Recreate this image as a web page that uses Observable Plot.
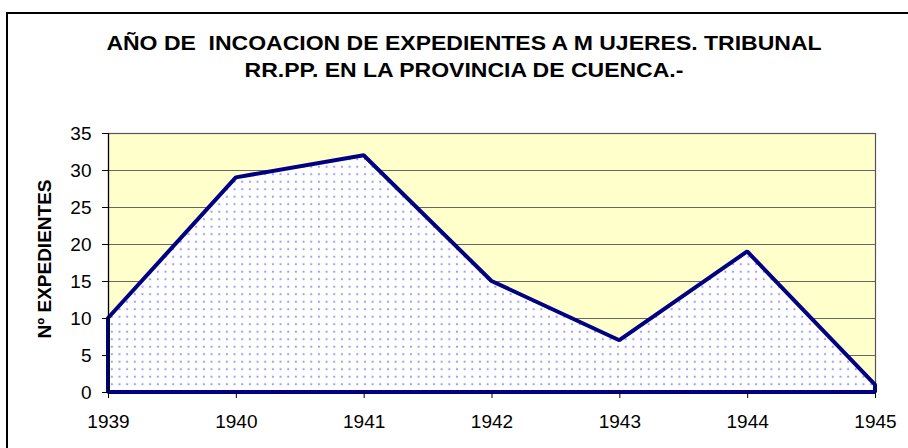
<!DOCTYPE html>
<html>
<head>
<meta charset="utf-8">
<script src="https://cdn.jsdelivr.net/npm/d3@7"></script>
<script src="https://cdn.jsdelivr.net/npm/@observablehq/plot@0.6"></script>
<style>
  html, body { margin: 0; padding: 0; background: #fff; overflow: hidden; }
  #wrap { position: relative; width: 908px; height: 448px; font-family: "Liberation Sans", Arial, sans-serif; }
  #border { position: absolute; left: 6px; top: 12px; width: 1000px; height: 1000px; border: 2px solid #000; box-sizing: border-box; }
  #title { position: absolute; left: 0; width: 928px; top: 30px; text-align: center; font-weight: bold; font-size: 20px; line-height: 27px; color: #000; white-space: pre; transform: scaleX(1.15); transform-origin: 464px 0; }
  #chart { position: absolute; left: 0; top: 0; }
</style>
</head>
<body>
<div id="wrap">
  <div id="border"></div>
  <div id="chart"></div>
  <div id="title">AÑO DE  INCOACION DE EXPEDIENTES A M UJERES. TRIBUNAL
RR.PP. EN LA PROVINCIA DE CUENCA.-</div>
</div>
<script>
const years = [1939, 1940, 1941, 1942, 1943, 1944, 1945];
const expedientes = [10, 29, 32, 15, 7, 19, 1];
const yTicks = [0, 5, 10, 15, 20, 25, 30, 35];
const yLabel = "Nº EXPEDIENTES";

const data = years.map((y, i) => ({year: y, value: expedientes[i]}));

const plot = Plot.plot({
  width: 908,
  height: 448,
  marginLeft: 108,
  marginRight: 33,
  marginTop: 133,
  marginBottom: 56,
  style: {fontFamily: "'Liberation Sans', Arial, sans-serif", fontSize: "19px", color: "#000", background: "transparent"},
  x: {domain: [1939, 1945], ticks: years, tickFormat: "d", label: null},
  y: {domain: [0, 35], ticks: yTicks, label: null},
  marks: [
    Plot.frame({fill: "#ffffcc"}),
    Plot.ruleY(yTicks.filter(d => d > 0), {stroke: "#666", strokeWidth: 1.2}),
    Plot.frame({stroke: "#555", strokeWidth: 1.2}),
    Plot.areaY(data, {x: "year", y: "value", fill: "url(#dots)", stroke: "#000080", strokeWidth: 4, strokeLinejoin: "miter"}),
    Plot.ruleX([1939], {stroke: "#000", strokeWidth: 1.2}),
    Plot.axisX({ticks: years, tickFormat: "d", tickSize: 6, tickPadding: 16, stroke: "#000", fontSize: 19}),
    Plot.axisY({ticks: yTicks, tickSize: 6, tickPadding: 11, stroke: "#000", fontSize: 19}),
    Plot.text([yLabel], {frameAnchor: "left", textAnchor: "middle", dx: -64, dy: -4, rotate: -90, fontWeight: "bold", fontSize: 19})
  ]
});

const svg = d3.select(plot);
const defs = svg.insert("defs", ":first-child");
const pat = defs.append("pattern")
  .attr("id", "dots")
  .attr("patternUnits", "userSpaceOnUse")
  .attr("x", 108).attr("y", 133)
  .attr("width", 7.67).attr("height", 7.5);
pat.append("rect").attr("width", 7.67).attr("height", 7.5).attr("fill", "#ffffff");
pat.append("circle").attr("cx", 3.8).attr("cy", 3.7).attr("r", 1.1).attr("fill", "#9a9aff");

document.getElementById("chart").appendChild(plot);
</script>
</body>
</html>
